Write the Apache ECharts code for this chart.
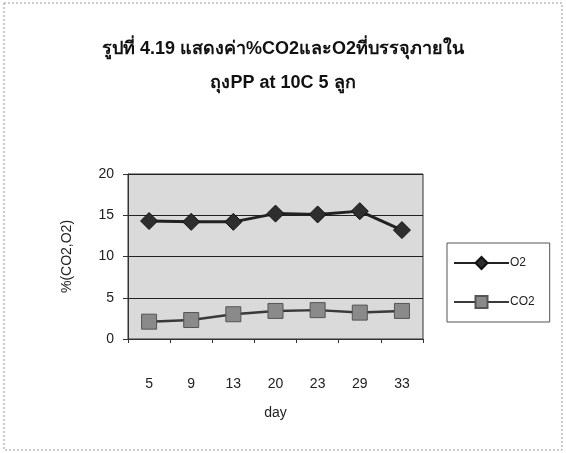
<!DOCTYPE html>
<html>
<head>
<meta charset="utf-8">
<script src="https://cdn.jsdelivr.net/npm/echarts@6/dist/echarts.min.js"></script>
<style>
  html, body { margin: 0; padding: 0; background: #ffffff; }
  #chart { width: 566px; height: 453px; }
</style>
</head>
<body>
<div id="chart"></div>
<script>
// Gas composition inside the PP bag over storage days
const days = ['5', '9', '13', '20', '23', '29', '33'];
const o2Values = [14.3, 14.2, 14.2, 15.2, 15.1, 15.5, 13.2];
const co2Values = [2.1, 2.3, 3.0, 3.4, 3.5, 3.2, 3.4];
const titleLines = ['รูปที่ 4.19 แสดงค่า%CO2และO2ที่บรรจุภายใน', 'ถุงPP at 10C 5 ลูก'];
const yTicks = { min: 0, max: 20, interval: 5 };

const baseFont = '"Liberation Sans", Arial, "Noto Sans", sans-serif';

const chart = echarts.init(document.getElementById('chart'), null, { renderer: 'canvas' });

chart.setOption({
  animation: false,
  backgroundColor: '#ffffff',
  textStyle: { fontFamily: baseFont },
  title: {
    text: titleLines.join('\n'),
    left: 'center',
    top: 27,
    textStyle: {
      fontFamily: baseFont,
      fontSize: 18,
      fontWeight: 'bold',
      color: '#111',
      lineHeight: 34
    }
  },
  graphic: [
    {
      type: 'rect',
      shape: { x: 4, y: 3, width: 558, height: 447 },
      style: { fill: 'none', stroke: '#9a9a9a', lineWidth: 1, lineDash: [2, 2] },
      silent: true
    }
  ],
  legend: {
    orient: 'vertical',
    left: 447,
    top: 243,
    padding: [13, 15, 13, 6],
    itemGap: 25,
    itemWidth: 55,
    itemHeight: 15,
    borderColor: '#555',
    borderWidth: 1,
    textStyle: { fontFamily: baseFont, fontSize: 12, color: '#222', padding: [0, 0, 0, -4] },
    data: ['O2', 'CO2']
  },
  grid: {
    left: 128,
    right: 143,
    top: 174,
    bottom: 114,
    show: true,
    backgroundColor: '#dadada',
    borderColor: '#333',
    borderWidth: 1
  },
  xAxis: {
    type: 'category',
    data: days,
    boundaryGap: true,
    name: 'day',
    nameLocation: 'middle',
    nameGap: 67,
    nameTextStyle: { fontSize: 14, color: '#222', fontFamily: baseFont },
    axisLine: { show: true, lineStyle: { color: '#333', width: 1 } },
    axisTick: { show: true, length: 4, lineStyle: { color: '#333' } },
    axisLabel: { margin: 38, fontSize: 14, color: '#222', fontFamily: baseFont },
    splitLine: { show: false }
  },
  yAxis: {
    type: 'value',
    min: yTicks.min,
    max: yTicks.max,
    interval: yTicks.interval,
    name: '%(CO2,O2)',
    nameLocation: 'middle',
    nameGap: 54,
    nameRotate: 90,
    nameTextStyle: { fontSize: 14, color: '#222', fontFamily: baseFont },
    axisLine: { show: true, lineStyle: { color: '#333', width: 1 } },
    axisTick: { show: true, length: 5, lineStyle: { color: '#333' } },
    axisLabel: { margin: 14, fontSize: 14, color: '#222', fontFamily: baseFont },
    splitLine: { show: true, lineStyle: { color: '#222', width: 1 } }
  },
  series: [
    {
      name: 'O2',
      type: 'line',
      data: o2Values,
      symbol: 'diamond',
      symbolSize: 17,
      lineStyle: { color: '#222', width: 3 },
      itemStyle: { color: '#2e2e2e', borderColor: '#111', borderWidth: 1 },
      z: 3
    },
    {
      name: 'CO2',
      type: 'line',
      data: co2Values,
      symbol: 'rect',
      symbolSize: 15,
      lineStyle: { color: '#3a3a3a', width: 2.5 },
      itemStyle: { color: '#8a8a8a', borderColor: '#555', borderWidth: 1 },
      z: 2
    }
  ]
});
</script>
</body>
</html>
